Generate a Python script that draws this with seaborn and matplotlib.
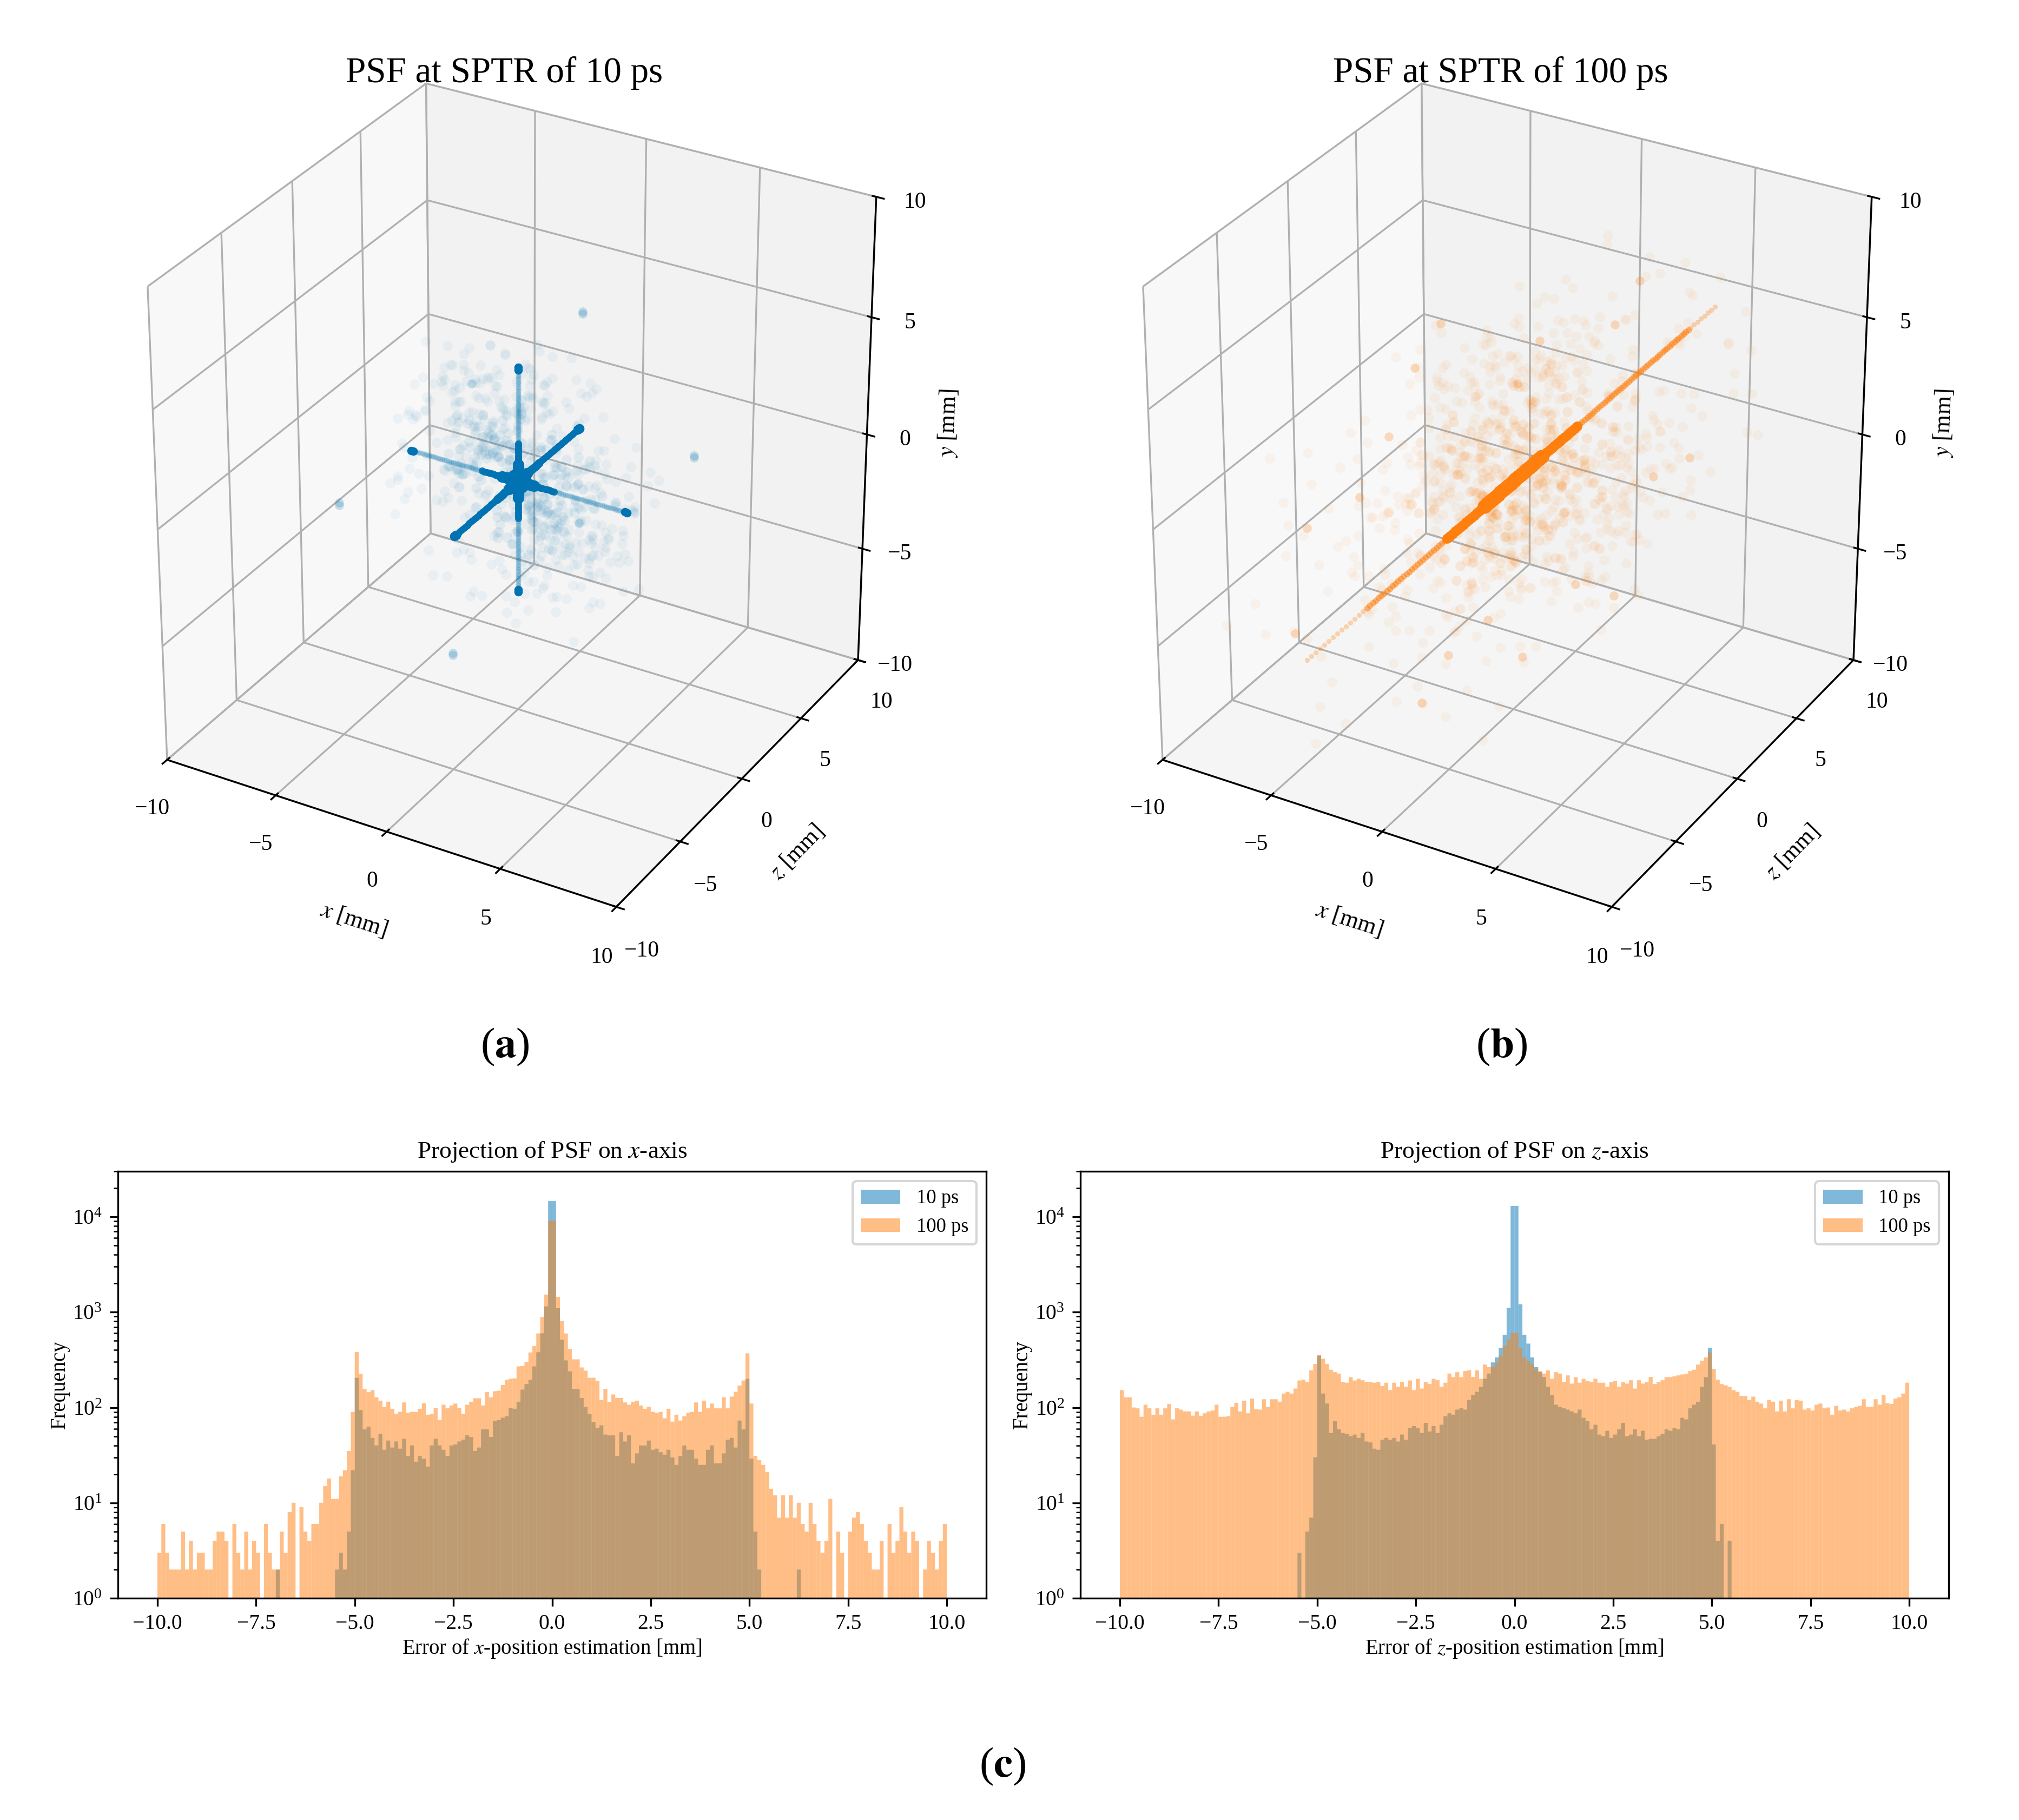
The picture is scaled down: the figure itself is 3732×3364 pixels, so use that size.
"""PSF at SPTR of 10 ps / 100 ps: 3D scatter views and histogram projections."""

import matplotlib
matplotlib.use("Agg")

import matplotlib.pyplot as plt
import numpy as np
import seaborn as sns

W, H = 3732, 3364

plt.rcParams["font.family"] = ["Liberation Serif", "DejaVu Serif"]
plt.rcParams["mathtext.fontset"] = "stix"

BLUE = sns.color_palette("colorblind")[0]
ORANGE = "#ff7f0e"

# ---------------------------------------------------------------------------
# Histogram counts, 200 bins of 0.1 mm from -10 to 10
# ---------------------------------------------------------------------------

X_100PS = [
    3, 6, 3, 2, 2, 2, 5, 2, 4, 2, 3, 3, 2, 2, 4, 5, 5, 4, 1, 6,
    3, 2, 5, 2, 4, 3, 1, 6, 3, 2, 2, 5, 3, 8, 10, 1, 9, 5, 4, 6,
    6, 10, 15, 18, 11, 11, 19, 22, 35, 90,
    382, 226, 156, 145, 152, 128, 118, 102, 115, 97,
    86, 90, 113, 88, 90, 90, 97, 111, 84, 86,
    99, 74, 107, 98, 105, 110, 99, 86, 107, 115,
    125, 125, 105, 145, 128, 148, 150, 172, 195, 200,
    202, 270, 272, 298, 378, 440, 598, 890, 1530, 9100,
    9100, 1450, 807, 598, 412, 320, 320, 263, 243, 205,
    205, 190, 120, 157, 114, 137, 126, 126, 113, 107,
    115, 118, 105, 97, 102, 90, 88, 90, 77, 97,
    71, 84, 73, 81, 88, 90, 113, 90, 118, 98,
    110, 98, 98, 128, 98, 130, 146, 170, 192, 370,
    110, 31, 28, 25, 21, 14, 12, 7, 12, 7, 12, 7, 10, 6, 5, 10, 6, 4, 3, 4,
    11, 1, 5, 3, 1, 5, 7, 8, 6, 4, 3, 2, 2, 4, 1, 6, 3, 4, 9, 5,
    3, 5, 4, 1, 2, 4, 3, 2, 4, 6,
]

X_10PS = [0] * 30 + [2] + [0] * 14 + [
    2, 3, 2, 5, 22,
    205, 94, 59, 63, 48, 40, 53, 36, 45, 38,
    44, 37, 47, 31, 40, 27, 31, 29, 24, 40,
    47, 40, 36, 31, 40, 41, 44, 46, 51, 49,
    35, 38, 59, 59, 49, 72, 74, 78, 81, 99,
    97, 115, 154, 176, 195, 270, 380, 600, 1150, 14600,
    14600, 1100, 515, 312, 239, 157, 156, 126, 101, 86,
    70, 61, 65, 52, 51, 51, 31, 55, 44, 51,
    26, 33, 40, 40, 45, 36, 37, 34, 32, 36,
    30, 25, 31, 40, 36, 36, 29, 25, 25, 36,
    40, 26, 26, 33, 46, 48, 38, 73, 59, 200,
    29, 5, 2,
] + [0] * 9 + [2] + [0] * 37

Z_100PS = [
    152, 128, 128, 100, 98, 80, 107, 98, 84, 98,
    84, 98, 109, 75, 98, 95, 91, 91, 82, 91,
    82, 87, 91, 93, 107, 80, 80, 81, 102, 112,
    91, 118, 87, 124, 96, 95, 122, 102, 122, 122,
    115, 140, 146, 140, 158, 192, 196, 186, 245, 286,
    357, 324, 286, 249, 235, 227, 186, 182, 208, 192,
    200, 193, 186, 185, 182, 185, 168, 182, 152, 182,
    165, 185, 165, 192, 152, 200, 158, 185, 176, 200,
    193, 165, 182, 227, 208, 235, 208, 241, 245, 209,
    245, 200, 282, 265, 265, 297, 350, 442, 518, 603,
    603, 423, 335, 310, 286, 254, 241, 227, 245, 200,
    235, 227, 186, 217, 178, 208, 182, 200, 190, 186,
    200, 182, 182, 165, 185, 190, 165, 185, 178, 193,
    158, 193, 178, 185, 209, 176, 185, 193, 208, 208,
    212, 217, 222, 226, 241, 249, 282, 310, 335, 378,
    254, 196, 176, 171, 165, 152, 146, 132, 132, 120,
    130, 115, 110, 98, 120, 115, 91, 118, 91, 122,
    98, 120, 118, 95, 98, 93, 107, 110, 98, 100,
    84, 104, 93, 95, 91, 98, 102, 104, 122, 102,
    102, 122, 107, 135, 111, 109, 124, 128, 140, 182,
]

Z_10PS = [0] * 45 + [
    3, 0, 5, 7, 30,
    350, 140, 110, 54, 72, 59, 54, 53, 50, 52,
    48, 54, 44, 43, 37, 36, 46, 48, 46, 48,
    44, 52, 46, 61, 64, 61, 54, 69, 56, 64,
    54, 66, 81, 87, 84, 95, 98, 95, 120, 135,
    146, 165, 200, 227, 297, 335, 423, 580, 1110, 13000,
    13000, 1210, 580, 468, 335, 265, 235, 208, 165, 135,
    107, 102, 98, 95, 91, 87, 95, 78, 72, 59,
    66, 52, 50, 57, 48, 52, 59, 69, 50, 52,
    59, 50, 57, 46, 47, 47, 50, 53, 59, 57,
    61, 59, 78, 75, 98, 107, 115, 165, 208, 423,
    41, 4, 6, 0, 4,
] + [0] * 45

X_TICKS = [-10, -7.5, -5, -2.5, 0, 2.5, 5, 7.5, 10]
BOX_TICKS = [-10, -5, 0, 5, 10]

# ---------------------------------------------------------------------------
# 3D point positions in mm
# ---------------------------------------------------------------------------

# arms of the 10 ps star
ARM_THIN = [-4.7, -4.6, -4.5, -4.4, -4.3, -4.2, -4.1, -4.0, -3.9, -3.8, -3.7, -3.6, -3.5,
            -3.4, -3.3, -3.2, -3.1, -3.0, -2.9, -2.8, -2.7, -2.6, -2.5, -2.4, -2.3, -2.2,
            -2.1, -2.0, -1.9, -1.8, -1.7, -1.6, -1.5, -1.4, -1.3, 1.3, 1.4, 1.5, 1.6, 1.7,
            1.8, 1.9, 2.0, 2.1, 2.2, 2.3, 2.4, 2.5, 2.6, 2.7, 2.8, 2.9, 3.0, 3.1, 3.2, 3.3,
            3.4, 3.5, 3.6, 3.7, 3.8, 3.9, 4.0, 4.1, 4.2, 4.3, 4.4, 4.5, 4.6, 4.7]
ARM_END = [-4.8, -4.7, 4.7, 4.8]
ARM_CORE = [-1.6, -1.5, -1.4, -1.3, -1.2, -1.1, -1.0, -0.9, -0.8, 0.8, 0.9, 1.0, 1.1, 1.2,
            1.3, 1.4, 1.5, 1.6]
ARM_HUB = [-0.7, -0.6, -0.5, -0.4, -0.3, -0.2, -0.1, 0.1, 0.2, 0.3, 0.4, 0.5, 0.6, 0.7]

HAZE_A_X = [
    -3.1, 1.2, -0.8, 2.4, -1.9, 0.6, 3.3, -2.6, 1.7, -0.3, 4.1, -3.8, 0.9, -1.4, 2.9,
    -0.5, 1.5, -2.2, 3.7, -4.2, 0.3, 2.1, -1.1, -3.4, 1.0, 4.4, -0.9, 2.6, -2.8, 0.7,
    -1.6, 3.0, -4.5, 1.9, -0.2, -2.4, 3.9, 0.5, -3.0, 1.3, 2.3, -0.7, -1.8, 4.7, -3.6,
    0.2, 1.6, -2.0, 3.2, -1.2, 0.8, -2.9, 2.7, -4.0, 1.1, -0.4, 3.5, -1.5, 2.0, -3.3,
    0.4, 4.3, -2.5, 1.4, -0.6, 2.8, -3.9, 0.1, 1.8, -1.0, 3.6, -2.1, 0.6, -4.4, 2.2,
    -1.3, 3.1, -0.1, 1.6, -2.7, 4.0, -3.2, 0.9, 2.5, -1.7, 0.0, 3.4, -2.3, 1.2, -0.9,
    4.6, -3.5, 2.4, -0.4, 1.0, -1.9, 3.8, -2.8, 0.3, 1.9, -4.1, 2.9, -0.7, -1.4, 3.3,
    -0.2, 1.5, -3.0, 4.2, -2.2, 0.7, 2.1, -1.1, -3.7, 1.7, -0.5, 2.6, -1.6, 3.0, -4.6,
    0.5, 1.3, -2.4, 3.7, -0.8, 2.0, -3.1, 0.2, 4.5, -1.2, 1.1, -2.6, 2.3, -0.3, 3.5,
    -1.8, 0.8, -3.4, 1.4, 2.7, -0.6, 4.1, -2.0, 0.4, -1.5, 3.2, -2.9, 1.8, -4.3, 0.6,
]
HAZE_A_Z = [
    1.8, -2.7, 3.4, 0.5, -1.2, 4.1, -3.6, 2.2, 0.9, -4.3, 1.4, -0.6, -2.4, 3.0, -1.7,
    4.6, 0.2, -3.1, 2.6, -0.9, 1.1, -4.0, 3.7, 0.7, -2.0, -1.4, 2.9, -3.3, 0.3, 4.4,
    -2.6, 1.6, -0.2, 3.3, -3.8, 2.0, -1.0, -4.5, 0.8, 2.4, -0.4, 3.9, -2.2, 1.2, -3.0,
    0.0, 4.2, -1.6, 2.8, -3.5, 1.9, -0.7, 3.1, -2.9, 0.4, -4.2, 1.5, 3.6, -1.1, 2.3,
    -3.2, 0.6, 4.5, -1.9, 2.7, -0.3, 1.0, -2.5, 3.8, -3.9, 0.1, 2.1, -1.3, 4.0, -2.8,
    1.7, -0.8, 3.2, -4.4, 0.9, -1.5, 2.5, -3.4, 1.3, 3.5, -2.1, -0.1, 4.3, -2.7, 0.6,
    2.2, -1.8, -3.7, 1.6, 3.0, -0.5, -2.3, 0.8, 4.7, -1.2, 2.6, -3.0, 1.1, -4.1, 0.2,
    3.4, -2.4, 1.9, -0.6, 2.9, -3.6, -1.0, 4.1, 0.5, -2.0, 1.4, -4.6, 2.7, -0.9, 3.7,
    -1.7, 0.3, 2.0, -3.3, 4.4, -2.6, 1.2, -0.2, 3.1, -1.4, -3.8, 2.4, 0.7, -2.2, 1.8,
    4.0, -0.4, 2.8, -3.1, 1.0, -1.9, 3.5, 0.1, -4.0, 2.3, -2.5, 0.9, -3.5, 1.5, 3.3,
]
HAZE_A_Y = [
    -0.9, 3.2, 1.5, -2.6, 4.0, -1.3, 0.4, 2.7, -3.8, 1.9, -0.2, 2.3, -4.2, 0.8, 3.5,
    -2.1, 1.1, 4.4, -1.6, 0.3, -3.0, 2.0, -0.7, 3.7, -1.9, 1.4, -3.4, 0.6, 2.5, -4.5,
    0.1, -2.8, 3.0, 1.7, -1.1, 4.2, -3.6, 0.9, 2.2, -0.5, -2.3, 3.3, 1.2, -3.9, 0.5,
    4.6, -1.5, 2.8, -0.3, 1.8, -2.5, 3.6, -4.0, 0.2, -1.7, 2.4, -0.8, 1.0, 3.9, -3.2,
    2.9, -1.2, 0.7, -3.5, 4.1, 1.6, -2.0, 3.1, -0.6, 2.1, -4.3, 0.0, 1.3, -2.7, 3.4,
    -1.0, 2.6, -3.7, 0.4, 4.5, -2.2, 1.5, -0.4, 3.8, -1.8, 2.3, -3.1, 0.8, 1.9, -4.6,
    0.6, 2.7, -1.4, 3.2, -2.9, 4.3, 1.1, -0.1, -3.3, 2.0, -1.6, 0.3, 3.5, -2.4, 1.7,
    -4.1, 0.9, 2.5, -0.7, -3.6, 1.4, 4.0, -2.6, 3.0, 0.2, -1.3, 2.2, -3.9, 0.5, 1.8,
    3.7, -2.3, 4.2, 0.7, -1.1, 2.9, -3.0, 1.6, -0.2, -4.4, 3.3, 0.1, -1.9, 2.4, -3.4,
    1.2, 4.7, -0.6, 2.8, -2.1, 3.6, -1.5, 0.4, 2.6, -3.8, 1.0, -0.9, 3.1, -2.8, 0.3,
]

# denser haze close to the star centre
NEAR_A_X = [
    0.7, -1.3, 1.9, -0.4, 0.2, -2.0, 1.1, 2.3, -1.6, 0.5, -0.9, 1.5, -2.4, 0.1, 0.9,
    -1.1, 2.1, -0.2, 1.3, -1.9, 0.4, -0.6, 2.6, -1.4, 0.8, -2.2, 1.7, 0.3, -0.7, 1.0,
    -1.7, 0.6, 2.0, -0.1, -1.2, 1.4, -2.5, 0.9, -0.5, 1.8, -0.3, 2.4, -1.0, 0.0, 1.2,
    -2.1, 0.7, -0.8, 1.6, -1.5, 0.2, 2.2, -0.4, 1.1, -1.8, 0.5, -1.2, 1.9, -0.6, 0.3,
]
NEAR_A_Z = [
    -1.8, 0.6, 1.2, -0.7, 2.3, 0.2, -1.1, -0.3, 1.6, -2.4, 0.9, 2.0, -0.5, 1.4, -1.6,
    0.3, -0.9, 2.5, 1.1, -1.3, -2.1, 0.7, 0.1, 1.8, -0.4, 1.0, -2.2, 0.5, 1.5, 2.2,
    -0.8, -1.5, 0.4, 1.9, -2.6, 1.3, 0.0, -1.2, 2.1, 0.6, -1.9, 1.7, -0.2, 0.8, -1.4,
    2.4, -0.6, 1.2, -2.0, 0.2, 1.6, -1.0, 0.9, -1.7, 2.0, -0.1, 1.1, -2.3, 0.4, 1.4,
]
NEAR_A_Y = [
    1.2, -1.9, 0.4, 2.2, -0.8, 1.5, -2.3, 0.6, 1.9, -1.1, 0.2, -0.7, 2.4, -1.6, 0.9,
    -2.0, 1.3, 0.1, -1.2, 2.6, 0.5, -1.5, 1.7, -0.3, -2.5, 0.8, 1.1, -1.8, 2.1, -0.6,
    1.6, 0.3, -1.0, -2.2, 1.4, 0.7, -0.4, 2.0, -1.7, 0.0, 1.8, -1.3, 2.3, -0.9, 0.6,
    -0.2, 1.0, -2.1, 0.4, 1.7, -1.4, 2.5, -0.5, 0.9, -1.1, 1.5, -2.4, 0.2, 1.2, -0.7,
]

# small bright spots of the 10 ps view
SPOT_A_X = [0.0, 0.0, -5.0, -5.0, 5.0, 5.0, -5.0, 5.5, 0.0, 0.0]
SPOT_A_Z = [5.0, 5.0, -5.0, -5.0, 5.0, 5.0, 5.0, -5.0, -5.0, -5.0]
SPOT_A_Y = [4.9, 4.8, 0.0, 0.1, 0.0, 0.1, 0.5, 2.2, -5.0, -4.9]

# the long streak of the 100 ps view, along z
LINE_FAINT = [-15.0, -14.7, -14.4, -14.1, -13.8, -13.5, -13.2, -12.9, -12.6, -12.3, -12.0,
              -11.7, -11.4, -11.1, 14.4, 14.7, 15.0, 15.3, 15.6, 15.9, 16.2, 16.5]
LINE_MID = [-10.8, -10.6, -10.4, -10.2, -10.0, -9.8, -9.6, -9.4, -9.2, -9.0, -8.8, -8.6,
            -8.4, -8.2, -8.0, -7.8, -7.6, -7.4, -7.2, -7.0, -6.8, -6.6, -6.4, -6.2, -6.0,
            -5.8, -5.6, -5.4, -5.2, 5.2, 5.4, 5.6, 5.8, 6.0, 6.2, 6.4, 6.6, 6.8, 7.0, 7.2,
            7.4, 7.6, 7.8, 8.0, 8.2, 8.4, 8.6, 8.8, 9.0, 9.2, 9.4, 9.6, 9.8, 10.0, 10.2,
            10.4, 10.6, 10.8, 11.0, 11.2, 11.4, 11.6, 11.8, 12.0, 12.2, 12.4, 12.6, 12.8,
            13.0, 13.2, 13.4, 13.6, 13.8, 14.0, 14.2]
LINE_CORE = [-5.0, -4.8, -4.6, -4.4, -4.2, -4.0, -3.8, -3.6, -3.4, -3.2, -3.0, -2.8, -2.6,
             -2.4, -2.2, 2.2, 2.4, 2.6, 2.8, 3.0, 3.2, 3.4, 3.6, 3.8, 4.0, 4.2, 4.4, 4.6,
             4.8, 5.0]
LINE_HUB = [-2.2, -2.0, -1.8, -1.6, -1.4, -1.2, -1.0, -0.8, -0.6, -0.4, -0.2, 0.0, 0.2, 0.4,
            0.6, 0.8, 1.0, 1.2, 1.4, 1.6, 1.8, 2.0, 2.2]

HAZE_B_X = [
    -3.1, 1.2, -0.8, 2.4, -1.9, 0.6, 3.3, -2.6, 1.7, -0.3, 4.1, -3.8, 0.9, -1.4, 2.9,
    -0.5, 1.5, -2.2, 3.7, -4.2, 0.3, 2.1, -1.1, -3.4, 1.0, 4.4, -0.9, 2.6, -2.8, 0.7,
    -1.6, 3.0, -4.5, 1.9, -0.2, -2.4, 3.9, 0.5, -3.0, 1.3, 2.3, -0.7, -1.8, 4.7, -3.6,
    0.2, 1.6, -2.0, 3.2, -1.2, 0.8, -2.9, 2.7, -4.0, 1.1, -0.4, 3.5, -1.5, 2.0, -3.3,
    0.4, 4.3, -2.5, 1.4, -0.6, 2.8, -3.9, 0.1, 1.8, -1.0, 3.6, -2.1, 0.6, -4.4, 2.2,
    -1.3, 3.1, -0.1, 1.6, -2.7, 4.0, -3.2, 0.9, 2.5, -1.7, 0.0, 3.4, -2.3, 1.2, -0.9,
    4.6, -3.5, 2.4, -0.4, 1.0, -1.9, 3.8, -2.8, 0.3, 1.9, -4.1, 2.9, -0.7, -1.4, 3.3,
    -0.2, 1.5, -3.0, 4.2, -2.2, 0.7, 2.1, -1.1, -3.7, 1.7, -0.5, 2.6, -1.6, 3.0, -4.6,
    0.5, 1.3, -2.4, 3.7, -0.8, 2.0, -3.1, 0.2, 4.5, -1.2, 1.1, -2.6, 2.3, -0.3, 3.5,
    -1.8, 0.8, -3.4, 1.4, 2.7, -0.6, 4.1, -2.0, 0.4, -1.5, 3.2, -2.9, 1.8, -4.3, 0.6,
    1.0, -1.7, 2.8, -0.1, -3.6, 0.7, 3.9, -2.4, 1.3, -0.8, 4.4, -1.2, 2.2, -3.0, 0.3,
    -2.0, 1.6, 3.4, -0.5, -4.7, 2.5, -1.4, 0.9, 3.0, -2.7, 0.1, 1.9, -3.9, 4.8, -0.6,
]
HAZE_B_Z = [
    2.8, -5.7, 6.4, 0.5, -1.2, 8.1, -6.6, 4.2, 0.9, -8.3, 1.4, -0.6, -4.4, 5.0, -1.7,
    9.1, 0.2, -7.1, 2.6, -0.9, 3.1, -9.0, 7.7, 0.7, -2.0, -3.4, 4.9, -6.3, 1.3, 6.4,
    -2.6, 3.6, -0.2, 5.3, -7.8, 2.0, -1.0, -8.5, 0.8, 4.4, -3.4, 6.9, -2.2, 1.2, -5.0,
    0.0, 7.2, -3.6, 2.8, -6.5, 1.9, -0.7, 5.1, -4.9, 0.4, -9.2, 3.5, 6.6, -1.1, 2.3,
    -5.2, 0.6, 8.5, -3.9, 2.7, -0.3, 4.0, -7.5, 3.8, -4.9, 0.1, 5.1, -1.3, 7.0, -2.8,
    1.7, -6.8, 3.2, -8.4, 0.9, -1.5, 4.5, -3.4, 1.3, 6.5, -2.1, -0.1, 9.3, -5.7, 0.6,
    2.2, -1.8, -7.7, 3.6, 5.0, -0.5, -4.3, 0.8, 8.7, -1.2, 2.6, -6.0, 1.1, -3.1, 0.2,
    5.4, -4.4, 1.9, -0.6, 7.9, -3.6, -1.0, 6.1, 0.5, -5.0, 1.4, -9.6, 2.7, -0.9, 4.7,
    -1.7, 0.3, 6.0, -6.3, 3.4, -2.6, 1.2, -8.2, 5.1, -1.4, -4.8, 2.4, 0.7, -7.2, 3.8,
    7.0, -0.4, 2.8, -5.1, 1.0, -3.9, 4.5, 0.1, -6.0, 8.3, -2.5, 0.9, -3.5, 1.5, 5.3,
    -0.8, 3.0, -7.0, 1.6, 6.2, -4.1, 0.4, -2.3, 9.5, -5.5, 2.1, -0.2, 4.2, -8.8, 1.0,
    3.3, -1.9, -6.7, 0.5, 5.8, -3.0, 7.4, -0.7, 2.5, -9.8, 1.7, 4.8, -2.7, 0.0, 6.8,
]
HAZE_B_Y = [
    -0.9, 3.2, 1.5, -2.6, 4.0, -1.3, 0.4, 2.7, -3.8, 1.9, -0.2, 2.3, -4.2, 0.8, 3.5,
    -2.1, 1.1, 4.4, -1.6, 0.3, -3.0, 2.0, -0.7, 3.7, -1.9, 1.4, -3.4, 0.6, 2.5, -4.5,
    0.1, -2.8, 3.0, 1.7, -1.1, 4.2, -3.6, 0.9, 2.2, -0.5, -2.3, 3.3, 1.2, -3.9, 0.5,
    4.6, -1.5, 2.8, -0.3, 1.8, -2.5, 3.6, -4.0, 0.2, -1.7, 2.4, -0.8, 1.0, 3.9, -3.2,
    2.9, -1.2, 0.7, -3.5, 4.1, 1.6, -2.0, 3.1, -0.6, 2.1, -4.3, 0.0, 1.3, -2.7, 3.4,
    -1.0, 2.6, -3.7, 0.4, 4.5, -2.2, 1.5, -0.4, 3.8, -1.8, 2.3, -3.1, 0.8, 1.9, -4.6,
    0.6, 2.7, -1.4, 3.2, -2.9, 4.3, 1.1, -0.1, -3.3, 2.0, -1.6, 0.3, 3.5, -2.4, 1.7,
    -4.1, 0.9, 2.5, -0.7, -3.6, 1.4, 4.0, -2.6, 3.0, 0.2, -1.3, 2.2, -3.9, 0.5, 1.8,
    3.7, -2.3, 4.2, 0.7, -1.1, 2.9, -3.0, 1.6, -0.2, -4.4, 3.3, 0.1, -1.9, 2.4, -3.4,
    1.2, 4.7, -0.6, 2.8, -2.1, 3.6, -1.5, 0.4, 2.6, -3.8, 1.0, -0.9, 3.1, -2.8, 0.3,
    -1.6, 2.2, 0.9, -3.3, 1.4, 4.8, -0.3, 2.7, -2.0, 3.5, -4.7, 0.6, 1.8, -1.2, 3.0,
    -2.5, 0.2, 4.3, -3.7, 1.1, -0.6, 2.4, -1.8, 3.8, 0.5, -2.9, 1.5, -4.2, 0.8, 2.1,
]

# outer part of the 100 ps cloud, it leaves the box along z
OUTER_B_X = [
    1.6, -2.8, 0.4, 3.7, -1.1, 4.9, -4.3, 2.2, -0.6, 3.1, -3.4, 0.9, 5.2, -1.9, 2.6,
    -5.1, 0.1, 3.9, -2.3, 1.3, -0.4, 4.4, -3.0, 1.8, -5.5, 2.9, -1.4, 0.6, 3.4, -2.6,
    5.0, -0.9, 1.1, -4.6, 2.4, -1.7, 4.1, 0.3, -3.7, 2.0,
]
OUTER_B_Z = [
    11.2, -10.6, 13.4, -12.2, 9.8, 10.4, -9.4, 14.1, -13.6, -11.0, 12.5, 15.2, -10.1, -14.8, 9.6,
    11.9, -12.9, 13.0, 10.8, -15.4, 14.6, -9.9, -11.6, 12.1, 10.0, -13.2, 16.0, 9.4, -10.9, 13.7,
    -12.5, 11.4, -14.2, 12.8, -9.7, 15.6, -11.3, 10.3, 14.0, -13.9,
]
OUTER_B_Y = [
    3.4, -2.2, 0.8, 2.6, -3.9, 0.2, 1.5, -1.3, -4.4, 3.0, -0.6, 2.1, -2.9, 0.4, 4.2,
    -1.8, 3.6, -3.1, 1.0, -0.3, 2.7, -4.7, 1.7, -2.4, 0.6, 3.2, -1.1, 4.6, -3.5, 0.0,
    2.3, -0.9, -2.7, 1.3, 3.8, -1.6, 0.5, -3.3, 2.9, 1.9,
]

# denser haze around the streak
NEAR_B_X = [
    0.7, -1.3, 1.9, -0.4, 0.2, -2.0, 1.1, 2.3, -1.6, 0.5, -0.9, 1.5, -2.4, 0.1, 0.9,
    -1.1, 2.1, -0.2, 1.3, -1.9, 0.4, -0.6, 2.6, -1.4, 0.8, -2.2, 1.7, 0.3, -0.7, 1.0,
    -1.7, 0.6, 2.0, -0.1, -1.2, 1.4, -2.5, 0.9, -0.5, 1.8, -0.3, 2.4, -1.0, 0.0, 1.2,
    -2.1, 0.7, -0.8, 1.6, -1.5, 0.2, 2.2, -0.4, 1.1, -1.8, 0.5, -1.2, 1.9, -0.6, 0.3,
]
NEAR_B_Z = [
    -3.8, 0.6, 2.2, -1.7, 4.3, 0.2, -2.1, -0.3, 3.6, -4.4, 1.9, 5.0, -0.5, 1.4, -3.6,
    0.3, -1.9, 4.5, 2.1, -1.3, -5.1, 0.7, 0.1, 3.8, -0.4, 1.0, -4.2, 0.5, 2.5, 5.2,
    -0.8, -2.5, 0.4, 3.9, -5.6, 1.3, 0.0, -3.2, 4.1, 0.6, -1.9, 2.7, -0.2, 5.8, -3.4,
    4.4, -0.6, 1.2, -4.0, 0.2, 3.6, -2.0, 0.9, -1.7, 6.0, -0.1, 2.1, -6.3, 0.4, 1.4,
]
NEAR_B_Y = [
    1.2, -1.9, 0.4, 2.2, -0.8, 1.5, -2.3, 0.6, 1.9, -1.1, 0.2, -0.7, 2.4, -1.6, 0.9,
    -2.0, 1.3, 0.1, -1.2, 2.6, 0.5, -1.5, 1.7, -0.3, -2.5, 0.8, 1.1, -1.8, 2.1, -0.6,
    1.6, 0.3, -1.0, -2.2, 1.4, 0.7, -0.4, 2.0, -1.7, 0.0, 1.8, -1.3, 2.3, -0.9, 0.6,
    -0.2, 1.0, -2.1, 0.4, 1.7, -1.4, 2.5, -0.5, 0.9, -1.1, 1.5, -2.4, 0.2, 1.2, -0.7,
]

# small bright spots of the 100 ps view
SPOT_B_X = [0.0, 0.0, 0.0, -5.0, -5.0, -5.0, -4.5, 5.0, 5.0, 4.5, 5.0, 0.0, 0.0, -5.0, 0.0, 5.0, -5.0, 0.0]
SPOT_B_Z = [10.0, 2.0, 0.3, 1.0, -1.0, 3.0, -4.0, -1.0, -4.0, 3.0, 5.0, -5.0, -7.0, -8.0, -2.0, -8.0, -7.0, 8.0]
SPOT_B_Y = [4.0, 5.0, 4.0, 3.0, 1.0, 4.0, 0.0, -3.0, -1.0, 0.0, 0.0, -5.0, -6.0, -4.0, -5.0, -2.0, 0.0, 3.0]


def px_rect(left, top, right, bottom):
    """Axes rectangle from pixel edges of the image."""
    return [left / W, 1 - bottom / H, (right - left) / W, (bottom - top) / H]


def style_box(ax):
    ax.set_xlim(-10, 10)
    ax.set_ylim(-10, 10)
    ax.set_zlim(-10, 10)
    ax.set_xticks(BOX_TICKS)
    ax.set_yticks(BOX_TICKS)
    ax.set_zticks(BOX_TICKS)
    ax.set_box_aspect((0.98, 0.98, 1.02), zoom=0.94)
    ax.set_xlabel("$x$ [mm]", fontsize=10.5, labelpad=6)
    ax.set_ylabel("$z$ [mm]", fontsize=10.5, labelpad=6)
    ax.set_zlabel("$y$ [mm]", fontsize=10.5, labelpad=5)
    ax.tick_params(labelsize=10, pad=4)
    ax.patch.set_alpha(0)


def cloud(ax, xs, zs, ys, color, size, alpha):
    ax.scatter(xs, zs, ys, color=color, s=size, alpha=alpha, linewidths=0, depthshade=False)


def arm_set(ax, where, size, alpha, z_size=None):
    """One marker set along each of the three axes of the star."""
    zeros = np.zeros(len(where))
    cloud(ax, where, zeros, zeros, BLUE, size, alpha)
    cloud(ax, zeros, zeros, where, BLUE, size, alpha)
    cloud(ax, zeros, where, zeros, BLUE, z_size or size, 1.0)


def draw_star(ax):
    cloud(ax, HAZE_A_X, HAZE_A_Z, HAZE_A_Y, BLUE, 20, 0.05)
    cloud(ax, HAZE_A_Z, HAZE_A_Y, HAZE_A_X, BLUE, 20, 0.05)
    cloud(ax, HAZE_A_Y, HAZE_A_X, HAZE_A_Z, BLUE, 20, 0.05)
    cloud(ax, NEAR_A_X, NEAR_A_Z, NEAR_A_Y, BLUE, 20, 0.08)
    cloud(ax, NEAR_A_Z, NEAR_A_Y, NEAR_A_X, BLUE, 20, 0.08)
    cloud(ax, NEAR_A_Y, NEAR_A_X, NEAR_A_Z, BLUE, 20, 0.08)
    cloud(ax, SPOT_A_X, SPOT_A_Z, SPOT_A_Y, BLUE, 16, 0.2)
    arm_set(ax, ARM_THIN, 6, 0.25, z_size=9)
    arm_set(ax, ARM_END, 14, 1.0, z_size=18)
    arm_set(ax, ARM_CORE, 10, 0.9, z_size=14)
    arm_set(ax, ARM_HUB, 26, 1.0)
    cloud(ax, [0.0], [0.0], [0.0], BLUE, 130, 1.0)


def line_set(ax, where, size, alpha):
    zeros = np.zeros(len(where))
    cloud(ax, zeros, where, zeros, ORANGE, size, alpha)


def draw_streak(ax):
    cloud(ax, HAZE_B_X, HAZE_B_Z, HAZE_B_Y, ORANGE, 20, 0.06)
    cloud(ax, HAZE_B_Y, HAZE_B_Z, HAZE_B_X, ORANGE, 20, 0.06)
    cloud(ax, HAZE_B_X, HAZE_B_Z[::-1], HAZE_B_Y, ORANGE, 20, 0.06)
    cloud(ax, HAZE_B_Y, HAZE_B_Z[::-1], HAZE_B_X, ORANGE, 20, 0.06)
    cloud(ax, OUTER_B_X, OUTER_B_Z, OUTER_B_Y, ORANGE, 20, 0.06)
    cloud(ax, OUTER_B_Y, OUTER_B_Z, OUTER_B_X, ORANGE, 20, 0.06)
    cloud(ax, NEAR_B_X, NEAR_B_Z, NEAR_B_Y, ORANGE, 20, 0.12)
    cloud(ax, NEAR_B_Y, NEAR_B_Z, NEAR_B_X, ORANGE, 20, 0.12)
    cloud(ax, NEAR_B_X, NEAR_B_Z[::-1], NEAR_B_Y, ORANGE, 20, 0.12)
    cloud(ax, SPOT_B_X, SPOT_B_Z, SPOT_B_Y, ORANGE, 16, 0.25)
    line_set(ax, LINE_FAINT, 5, 0.3)
    line_set(ax, LINE_MID, 8, 0.55)
    line_set(ax, LINE_CORE, 20, 1.0)
    line_set(ax, LINE_HUB, 40, 1.0)


def projection(ax, narrow, wide, axis_name):
    centres = np.arange(len(narrow)) * 0.1 - 9.95
    sns.histplot(x=centres, weights=narrow, bins=200, binrange=(-10, 10), color=BLUE, alpha=0.5,
                 linewidth=0, label="10 ps", ax=ax)
    sns.histplot(x=centres, weights=wide, bins=200, binrange=(-10, 10), color=ORANGE, alpha=0.5,
                 linewidth=0, label="100 ps", ax=ax)
    for bar in ax.patches:
        bar.set_snap(False)
    ax.set_yscale("log")
    ax.set_ylim(1, 3e4)
    ax.set_xlim(-11, 11)
    ax.set_xticks(X_TICKS, ["\u221210.0", "\u22127.5", "\u22125.0", "\u22122.5", "0.0", "2.5", "5.0", "7.5", "10.0"])
    ax.tick_params(labelsize=9.5)
    ax.set_ylabel("Frequency", fontsize=9.3, labelpad=1)
    ax.set_xlabel(f"Error of ${axis_name}$-position estimation [mm]", fontsize=9.3, labelpad=1.5)
    ax.set_title(f"Projection of PSF on ${axis_name}$-axis", fontsize=10.9, pad=6)
    ax.legend(loc="upper right", fontsize=8.8)


fig = plt.figure(figsize=(W / 300, H / 300), dpi=300)

ax_a = fig.add_axes(px_rect(64, 43, 1804, 1783), projection="3d")
style_box(ax_a)
draw_star(ax_a)

ax_b = fig.add_axes(px_rect(1904, 43, 3644, 1783), projection="3d")
style_box(ax_b)
draw_streak(ax_b)

fig.text(932 / W, 1 - 135 / H, "PSF at SPTR of 10 ps", fontsize=16.1, ha="center", va="center")
fig.text(2774 / W, 1 - 135 / H, "PSF at SPTR of 100 ps", fontsize=16.1, ha="center", va="center")

ax_c = fig.add_axes(px_rect(218, 2165, 1823, 2954))
projection(ax_c, X_10PS, X_100PS, "x")
ax_d = fig.add_axes(px_rect(1997, 2165, 3602, 2954))
projection(ax_d, Z_10PS, Z_100PS, "z")

for label, cx, cy in [("a", 933, 1935), ("b", 2776, 1935), ("c", 1853, 3265)]:
    fig.text(cx / W, 1 - cy / H, f"($\\mathbf{{{label}}}$)", fontsize=19, ha="center", va="center")

fig.savefig("out.png", dpi=300)
